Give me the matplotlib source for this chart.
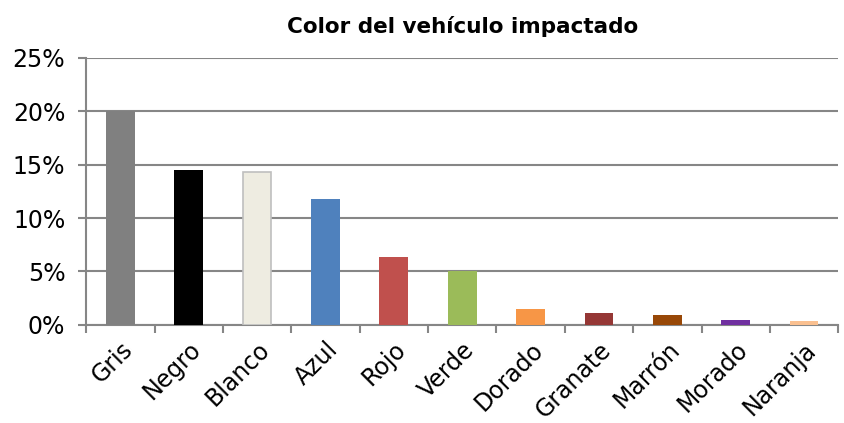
import matplotlib
matplotlib.use('Agg')
import matplotlib.pyplot as plt
import numpy as np
from matplotlib.ticker import FuncFormatter

plt.rcParams['font.family'] = ['DejaVu Sans']

# datos
colores = ["Gris", "Negro", "Blanco", "Azul", "Rojo", "Verde", "Dorado",
           "Granate", "Marrón", "Morado", "Naranja"]
porcentajes = [20.0, 14.5, 14.3, 11.8, 6.4, 5.0, 1.5, 1.1, 0.95, 0.5, 0.4]
relleno = ["#808080", "#000000", "#EEECE1", "#4F81BD", "#C0504D", "#9BBB59",
           "#F79646", "#953735", "#984807", "#7030A0", "#FAC090"]
borde = ["none", "none", "#BFBFBF", "none", "none", "none",
         "none", "none", "none", "none", "none"]
yticks = [0, 5, 10, 15, 20, 25]

fig = plt.figure(figsize=(8.45, 4.23), dpi=100)
ax = fig.add_axes([0.102, 0.232, 0.890, 0.631])

x = np.arange(len(colores))
ax.bar(x, porcentajes, width=0.42, color=relleno, edgecolor=borde,
       linewidth=1.2, zorder=3)

ax.set_ylim(0, 25)
ax.set_xlim(-0.5, len(colores) - 0.5)
ax.set_yticks(yticks)
ax.yaxis.set_major_formatter(FuncFormatter(lambda v, p: f"{v:.0f}%"))
ax.grid(axis='y', color='#868686', linewidth=1.5, zorder=0)

ax.set_xticks(x)
ax.set_xticklabels(colores, rotation=45, ha='right', rotation_mode='anchor',
                   fontsize=17)
ax.set_xticks(np.arange(-0.5, len(colores), 1), minor=True)
ax.tick_params(axis='x', which='major', length=0, pad=9)
ax.tick_params(axis='x', which='minor', length=6, width=1.5, color='#868686')
ax.tick_params(axis='y', length=6, width=1.5, color='#868686', labelsize=17,
               pad=9)

for s in ['top', 'right']:
    ax.spines[s].set_visible(False)
for s in ['left', 'bottom']:
    ax.spines[s].set_color('#868686')
    ax.spines[s].set_linewidth(1.5)

ax.set_title("Color del vehículo impactado", fontsize=15.5, fontweight='bold',
             pad=18)

plt.savefig("out.png", dpi=100)
plt.close()
